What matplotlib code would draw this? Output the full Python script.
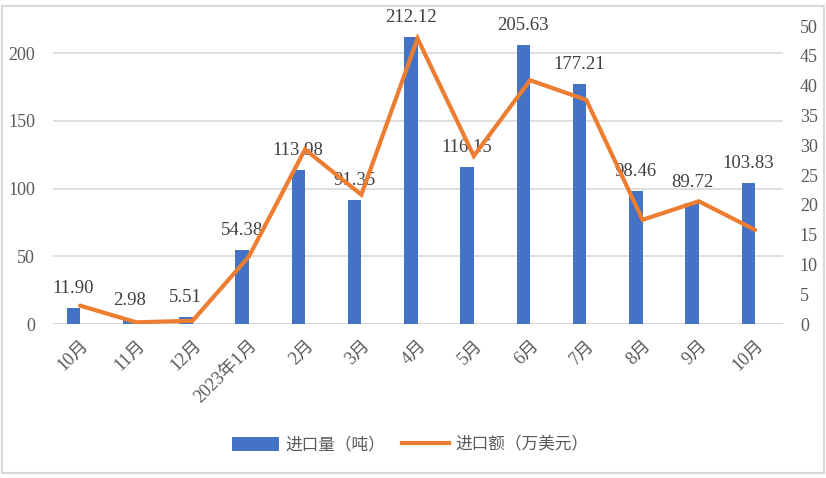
import matplotlib
matplotlib.use('Agg')
import matplotlib.pyplot as plt
from matplotlib.patches import Rectangle, Patch
from matplotlib.lines import Line2D
import numpy as np

# data
months = ['10月', '11月', '12月', '2023年1月', '2月', '3月', '4月',
          '5月', '6月', '7月', '8月', '9月', '10月']
volume = [11.90, 2.98, 5.51, 54.38, 113.98, 91.35, 212.12,
          116.15, 205.63, 177.21, 98.46, 89.72, 103.83]
amount = [3.1, 0.3, 0.55, 11.3, 29.3, 21.7, 47.9,
          28.2, 40.9, 37.6, 17.5, 20.6, 15.8]

serif = ['Liberation Serif', 'Noto Sans CJK SC']
sans = ['Noto Sans CJK SC', 'DejaVu Sans']
txt_color = '#595959'
grid_color = '#d9d9d9'

fig = plt.figure(figsize=(8.26, 4.78), dpi=100)
fig.patches.append(Rectangle((0.003, 0.01), 0.994, 0.978, transform=fig.transFigure,
                             fill=False, edgecolor=grid_color, linewidth=1.5))

ax = fig.add_axes([0.0642, 0.322, 0.884, 0.6236])
ax2 = ax.twinx()

x = np.arange(len(months))
bw = 0.24
ax.bar(x - bw / 2, volume, width=bw, color='#4472C4', zorder=2)
ax2.plot(x, amount, color='#ED7D31', linewidth=3, solid_capstyle='round',
         solid_joinstyle='miter', zorder=3)

# labels above bars
for xi, v in zip(x, volume):
    ax.annotate(f'{v:.2f}', (xi - bw / 2, v), xytext=(0, 8), textcoords='offset points',
                ha='center', va='bottom', fontsize=13.5, family=serif, color='#404040')

ax.set_xlim(-0.48, 12.5)
ax.set_ylim(0, 220)
ax2.set_ylim(0, 50)
ax.set_yticks([0, 50, 100, 150, 200])
ax2.set_yticks(range(0, 51, 5))
ax.yaxis.grid(True, color=grid_color, linewidth=1.2, zorder=0)
ax.set_axisbelow(True)

for a in (ax, ax2):
    for s in a.spines.values():
        s.set_visible(False)
ax.axhline(0, color=grid_color, linewidth=2, zorder=1)

ax.tick_params(axis='y', length=0, pad=13, labelsize=13, labelcolor=txt_color)
ax2.tick_params(axis='y', length=0, pad=12, labelsize=13, labelcolor=txt_color)
ax.tick_params(axis='x', length=0, pad=9)
for lab in ax.get_yticklabels() + ax2.get_yticklabels():
    lab.set_family(serif)

ax.set_xticks(x)
ax.set_xticklabels(months, rotation=45, ha='right', va='top', rotation_mode='anchor',
                   fontsize=13, color=txt_color, family=serif)

handles = [Patch(facecolor='#4472C4', label='进口量（吨）'),
           Line2D([0], [0], color='#ED7D31', linewidth=3, label='进口额（万美元）')]
fig.legend(handles=handles, loc='center', bbox_to_anchor=(0.497, 0.069), ncol=2,
           frameon=False, prop={'family': sans, 'size': 12}, labelcolor=txt_color,
           handlelength=2.8, handleheight=0.9, columnspacing=1.0, handletextpad=0.4)

fig.savefig('out.png', dpi=100)
